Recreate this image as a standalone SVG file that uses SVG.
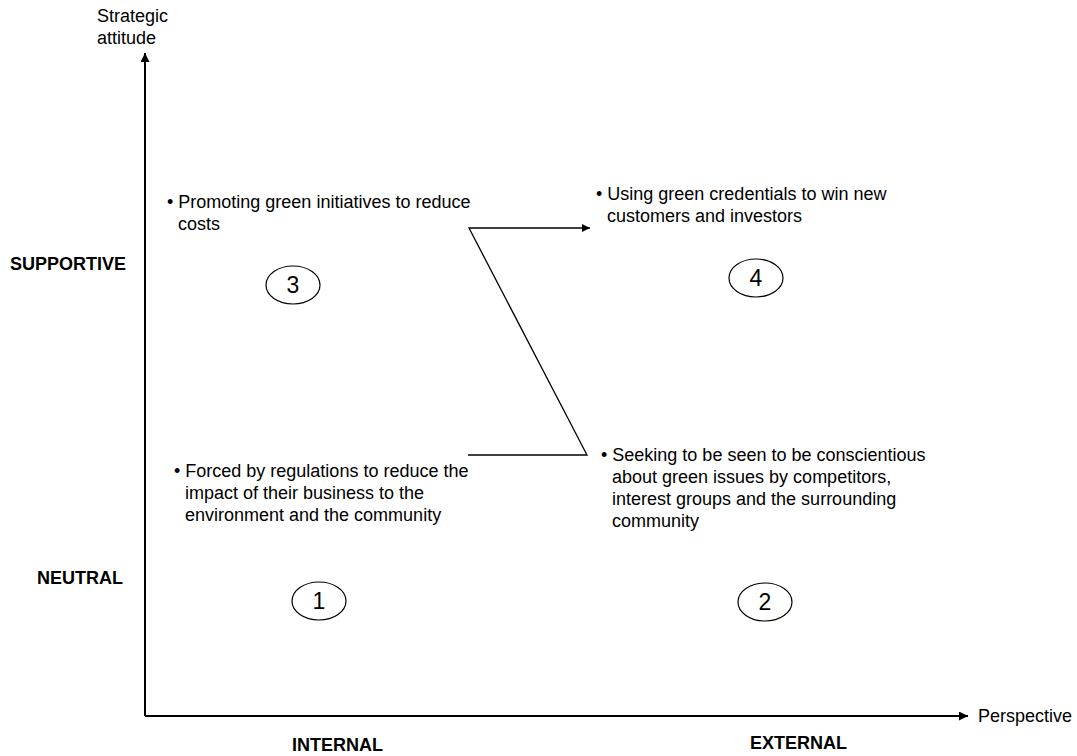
<svg xmlns="http://www.w3.org/2000/svg" width="1077" height="756" viewBox="0 0 1077 756">
<style>
text{font-family:"Liberation Sans",Arial,sans-serif;font-size:18px;fill:#000}
.b{font-weight:bold}
.num{font-size:23px}
.axis{stroke:#000;stroke-width:2;fill:none}
.conn{stroke:#000;stroke-width:1.3;fill:none}
.oval{stroke:#000;stroke-width:1.2;fill:#fff}
</style>
<defs>
<marker id="ah" viewBox="0 0 10 10" refX="10" refY="5" markerWidth="10" markerHeight="8" markerUnits="userSpaceOnUse" orient="auto">
<path d="M0,0 L10,5 L0,10 z" fill="#000"/>
</marker>
<marker id="ah2" viewBox="0 0 10 10" refX="10" refY="5" markerWidth="11" markerHeight="9" markerUnits="userSpaceOnUse" orient="auto">
<path d="M0,0 L10,5 L0,10 z" fill="#000"/>
</marker>
</defs>
<rect width="1077" height="756" fill="#fff"/>
<g id="axes">
<path class="axis" d="M145,716 V53" marker-end="url(#ah2)"/>
<path class="axis" d="M145,716 H968" marker-end="url(#ah2)"/>
<text x="97" y="22">Strategic</text>
<text x="97" y="44">attitude</text>
<text x="978" y="722">Perspective</text>
<text class="b" x="10" y="270">SUPPORTIVE</text>
<text class="b" x="37" y="584">NEUTRAL</text>
<text class="b" x="292" y="751">INTERNAL</text>
<text class="b" x="750" y="749">EXTERNAL</text>
</g>
<g id="connectors">
<path class="conn" d="M468,455 H587 L469,228 H590" marker-end="url(#ah)"/>
</g>
<g id="q3">
<text x="167" y="208">• Promoting green initiatives to reduce</text>
<text x="178" y="230">costs</text>
<ellipse class="oval" cx="293" cy="285" rx="27" ry="19"/>
<text class="num" x="293" y="293" text-anchor="middle">3</text>
</g>
<g id="q4">
<text x="596" y="200">• Using green credentials to win new</text>
<text x="607" y="222">customers and investors</text>
<ellipse class="oval" cx="756" cy="278" rx="27" ry="19"/>
<text class="num" x="756" y="286" text-anchor="middle">4</text>
</g>
<g id="q1">
<text x="174" y="477">• Forced by regulations to reduce the</text>
<text x="185" y="499">impact of their business to the</text>
<text x="185" y="521">environment and the community</text>
<ellipse class="oval" cx="319" cy="601" rx="27" ry="19"/>
<text class="num" x="319" y="609" text-anchor="middle">1</text>
</g>
<g id="q2">
<text x="601" y="461">• Seeking to be seen to be conscientious</text>
<text x="612" y="483">about green issues by competitors,</text>
<text x="612" y="505">interest groups and the surrounding</text>
<text x="612" y="527">community</text>
<ellipse class="oval" cx="765" cy="602" rx="27" ry="19"/>
<text class="num" x="765" y="610" text-anchor="middle">2</text>
</g>
</svg>
